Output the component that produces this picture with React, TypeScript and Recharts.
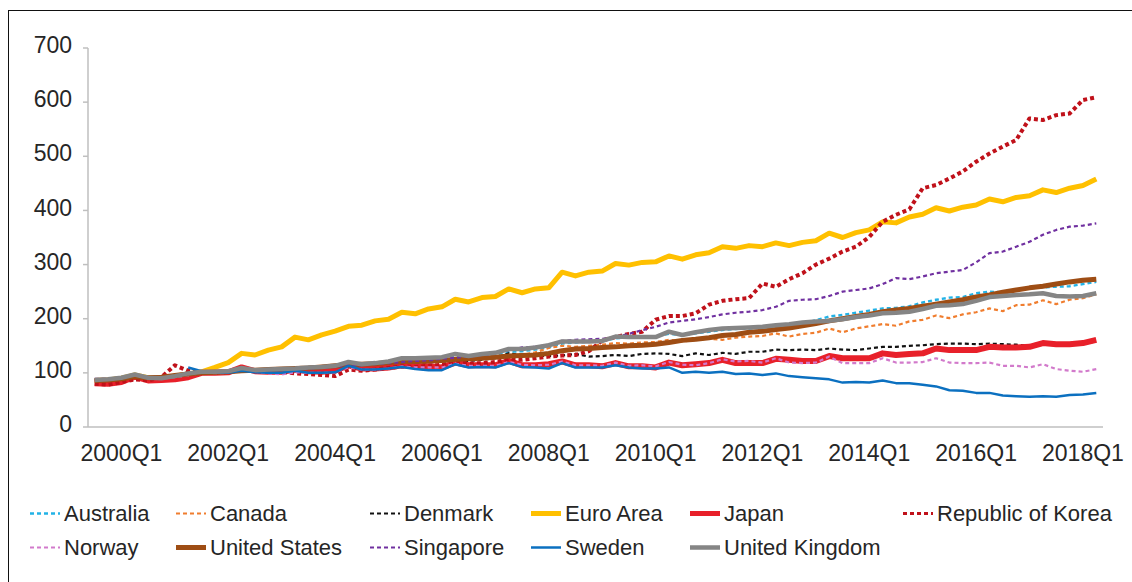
import React from 'react';
import { LineChart, Line, XAxis, YAxis } from 'recharts';

const FONT = '"Liberation Sans", Arial, sans-serif';

// quarters, 1999Q3 .. 2018Q2
const quarters = [
  '1999Q3', '1999Q4',
  '2000Q1', '2000Q2', '2000Q3', '2000Q4',
  '2001Q1', '2001Q2', '2001Q3', '2001Q4',
  '2002Q1', '2002Q2', '2002Q3', '2002Q4',
  '2003Q1', '2003Q2', '2003Q3', '2003Q4',
  '2004Q1', '2004Q2', '2004Q3', '2004Q4',
  '2005Q1', '2005Q2', '2005Q3', '2005Q4',
  '2006Q1', '2006Q2', '2006Q3', '2006Q4',
  '2007Q1', '2007Q2', '2007Q3', '2007Q4',
  '2008Q1', '2008Q2', '2008Q3', '2008Q4',
  '2009Q1', '2009Q2', '2009Q3', '2009Q4',
  '2010Q1', '2010Q2', '2010Q3', '2010Q4',
  '2011Q1', '2011Q2', '2011Q3', '2011Q4',
  '2012Q1', '2012Q2', '2012Q3', '2012Q4',
  '2013Q1', '2013Q2', '2013Q3', '2013Q4',
  '2014Q1', '2014Q2', '2014Q3', '2014Q4',
  '2015Q1', '2015Q2', '2015Q3', '2015Q4',
  '2016Q1', '2016Q2', '2016Q3', '2016Q4',
  '2017Q1', '2017Q2', '2017Q3', '2017Q4',
  '2018Q1', '2018Q2',
];

const tickLabels = ['2000Q1', '2002Q1', '2004Q1', '2006Q1', '2008Q1', '2010Q1', '2012Q1', '2014Q1', '2016Q1', '2018Q1'];
const yTicks = [0, 100, 200, 300, 400, 500, 600, 700];

const australia = [
  87, 88, 90, 95, 91, 90, 93, 97, 100, 101,
  102, 105, 104, 105, 106, 107, 109, 110, 112, 116,
  115, 117, 119, 123, 123, 124, 126, 130, 129, 131,
  134, 139, 140, 143, 147, 154, 156, 157, 158, 164,
  165, 166, 167, 172, 170, 173, 176, 179, 181, 182,
  184, 186, 189, 192, 197, 204, 207, 211, 215, 219,
  220, 223, 230, 235, 239, 240, 247, 250, 249, 253,
  256, 258, 259, 260, 264, 268,
];
const canada = [
  86, 87, 89, 94, 90, 90, 93, 97, 99, 100,
  101, 104, 103, 104, 105, 106, 108, 109, 110, 114,
  113, 115, 117, 120, 119, 121, 122, 126, 124, 126,
  128, 135, 133, 138, 146, 150, 148, 150, 152, 155,
  154, 156, 157, 161, 158, 161, 163, 161, 165, 167,
  168, 173, 167, 172, 174, 182, 175, 182, 186, 190,
  187, 195, 198, 206, 201, 208, 212, 219, 214, 225,
  226, 234, 227, 235, 238, 245,
];
const denmark = [
  86, 87, 89, 94, 90, 90, 93, 97, 100, 100,
  101, 104, 103, 104, 105, 106, 107, 108, 110, 113,
  113, 114, 116, 118, 118, 119, 121, 124, 122, 124,
  127, 136, 133, 132, 131, 132, 135, 130, 131, 133,
  131, 135, 136, 135, 131, 136, 133, 137, 135, 139,
  139, 143, 142, 143, 142, 145, 143, 142, 145, 148,
  148, 150, 151, 153, 154, 154, 153, 154, 153, 152,
  150, 153, 152, 152, 154, 158,
];
const euroArea = [
  86, 87, 90, 96, 91, 90, 94, 98, 102, 110,
  119, 136, 133, 142, 148, 166, 161, 170, 177, 186,
  188, 196, 199, 212, 209, 218, 222, 236, 231, 239,
  241, 255, 248, 255, 257, 286, 279, 286, 288, 302,
  299, 304, 305, 316, 310, 318, 322, 333, 330, 335,
  333, 340, 335, 341, 344, 358, 350, 359, 364, 379,
  377, 388, 393, 405, 399, 406, 410, 421, 416, 424,
  427, 438, 433, 441, 446, 458,
];
const japan = [
  81, 80, 83, 93, 86, 87, 88, 92, 100, 100,
  101, 110, 103, 102, 102, 106, 103, 102, 104, 114,
  108, 108, 110, 114, 112, 112, 110, 119, 114, 114,
  114, 122, 114, 114, 116, 121, 114, 114, 112, 118,
  112, 112, 110, 119, 114, 116, 118, 124, 118, 118,
  118, 126, 124, 122, 122, 131, 127, 127, 127, 136,
  133, 135, 136, 145, 142, 142, 142, 148, 147, 147,
  148, 155, 153, 153, 155, 161,
];
const korea = [
  80, 78, 83, 88, 86, 92, 114, 104, 100, 100,
  102, 108, 104, 103, 102, 99, 98, 96, 94, 106,
  104, 106, 109, 112, 111, 113, 115, 120, 117, 118,
  120, 125, 124, 127, 130, 132, 133, 140, 160, 166,
  172, 176, 198, 205, 205, 210, 226, 233, 236, 238,
  265, 259, 273, 284, 300, 311, 324, 333, 351, 379,
  392, 402, 441, 447, 459, 472, 490, 505, 518, 530,
  570, 567, 576, 579, 604, 609,
];
const norway = [
  85, 86, 88, 93, 89, 89, 92, 95, 99, 99,
  100, 106, 102, 99, 97, 101, 100, 100, 101, 110,
  106, 106, 108, 112, 110, 110, 110, 117, 113, 113,
  113, 120, 115, 114, 115, 121, 114, 114, 113, 119,
  113, 114, 112, 120, 115, 114, 118, 125, 121, 122,
  119, 127, 119, 118, 119, 130, 118, 118, 118, 127,
  119, 119, 120, 127, 119, 118, 118, 119, 113, 113,
  110, 116, 107, 104, 102, 107,
];
const unitedStates = [
  86, 87, 89, 93, 91, 92, 95, 98, 100, 101,
  102, 104, 105, 106, 107, 108, 109, 111, 113, 115,
  116, 117, 119, 121, 121, 122, 123, 125, 126, 127,
  129, 131, 132, 133, 136, 141, 144, 145, 147, 148,
  150, 151, 153, 156, 160, 162, 165, 169, 171, 175,
  177, 180, 183, 187, 191, 196, 200, 204, 208, 213,
  216, 219, 223, 227, 231, 235, 240, 244, 249, 253,
  257, 260, 264, 268, 271, 273,
];
const singapore = [
  89, 89, 91, 96, 92, 91, 94, 98, 101, 101,
  102, 106, 104, 104, 105, 106, 108, 109, 111, 114,
  114, 116, 118, 120, 122, 123, 126, 128, 130, 133,
  136, 142, 147, 148, 152, 159, 161, 162, 163, 166,
  172, 179, 185, 193, 196, 199, 203, 208, 211, 213,
  216, 222, 233, 235, 236, 242, 250, 253, 256, 264,
  275, 273, 278, 284, 287, 290, 304, 321, 324, 333,
  342, 355, 364, 370, 372, 376,
];
const sweden = [
  null, null, null, null, null, null, null, 110, 103, 100,
  100, 104, 101, 100, 100, 104, 100, 100, 101, 113,
  106, 106, 108, 111, 107, 105, 105, 116, 110, 111,
  110, 118, 111, 110, 108, 118, 110, 110, 110, 114,
  110, 108, 108, 110, 100, 102, 100, 102, 98, 99,
  96, 99, 94, 92, 90, 88, 82, 83, 82, 86,
  81, 81, 78, 75, 68, 67, 63, 63, 58, 57,
  56, 57, 56, 59, 60, 63,
];
const unitedKingdom = [
  87, 88, 91, 97, 91, 90, 94, 99, 102, 102,
  103, 109, 105, 106, 107, 108, 110, 111, 113, 120,
  116, 118, 121, 127, 127, 128, 129, 135, 131, 135,
  137, 144, 144, 147, 151, 158, 158, 158, 159, 167,
  166, 166, 166, 176, 170, 175, 179, 182, 183, 184,
  185, 188, 190, 193, 195, 196, 199, 203, 206, 210,
  211, 213, 218, 224, 225, 227, 233, 240, 242, 244,
  245, 247, 242, 241, 242, 247,
];

const data = quarters.map((q, i) => ({
  quarter: q,
  australia: australia[i],
  canada: canada[i],
  denmark: denmark[i],
  euroArea: euroArea[i],
  japan: japan[i],
  korea: korea[i],
  norway: norway[i],
  unitedStates: unitedStates[i],
  singapore: singapore[i],
  sweden: sweden[i],
  unitedKingdom: unitedKingdom[i],
}));

// drawing order = legend order (last on top)
const series = [
  { key: 'australia', name: 'Australia', color: '#22B2E6', width: 2.4, dash: '4 3' },
  { key: 'canada', name: 'Canada', color: '#F07D2E', width: 2.2, dash: '4 3' },
  { key: 'denmark', name: 'Denmark', color: '#111111', width: 2.2, dash: '4 3' },
  { key: 'euroArea', name: 'Euro Area', color: '#FFC000', width: 5 },
  { key: 'japan', name: 'Japan', color: '#E8202A', width: 6 },
  { key: 'korea', name: 'Republic of Korea', color: '#C0111A', width: 4, dash: '4 3' },
  { key: 'norway', name: 'Norway', color: '#D27ACB', width: 2.2, dash: '4 3' },
  { key: 'unitedStates', name: 'United States', color: '#9E4D14', width: 5 },
  { key: 'singapore', name: 'Singapore', color: '#7030A0', width: 2.2, dash: '4 3' },
  { key: 'sweden', name: 'Sweden', color: '#0B70C0', width: 2.5 },
  { key: 'unitedKingdom', name: 'United Kingdom', color: '#858585', width: 4.5 },
];

const legendCols = [30, 176, 370, 531, 690, 903];
const legendRows = [513.5, 547.5];

const XTick = (props: any) => {
  const { x, y, payload } = props;
  return (
    <text x={x} y={y} dy="0.71em" textAnchor="middle" fill="#262626" fontSize={23} fontFamily={FONT}>
      {payload.value}
    </text>
  );
};

const YTick = (props: any) => {
  const { x, y, payload } = props;
  return (
    <text x={x} y={y - 3} dy="0.355em" textAnchor="end" fill="#262626" fontSize={23} fontFamily={FONT}>
      {payload.value}
    </text>
  );
};

const ChartLegend = () => (
  <svg width={1132} height={582} style={{ position: 'absolute', left: 0, top: 0, pointerEvents: 'none' }}>
    {series.map((s, i) => {
      const row = i < 6 ? 0 : 1;
      const col = i < 6 ? i : i - 6;
      const x = legendCols[col];
      const y = legendRows[row];
      return (
        <g key={s.key}>
          <line
            x1={x}
            x2={x + 30}
            y1={y}
            y2={y}
            stroke={s.color}
            strokeWidth={s.dash ? Math.min(s.width, 3) : Math.min(s.width, 5)}
            strokeDasharray={s.dash}
          />
          <text x={x + 34} y={y + 7.7} fontSize={22} fill="#262626" fontFamily={FONT}>
            {s.name}
          </text>
        </g>
      );
    })}
  </svg>
);

export default function App() {
  return (
    <div style={{ position: 'absolute', left: 0, top: 0, width: 1132, height: 582, overflow: 'hidden', background: '#fff' }}>
      <div
        style={{
          position: 'absolute',
          left: 8,
          top: 10,
          width: 1300,
          height: 800,
          borderLeft: '1.5px solid #111',
          borderTop: '1.5px solid #111',
        }}
      />
      <LineChart width={1132} height={582} data={data} margin={{ top: 48, right: 29, bottom: 115, left: 0 }}>
        <XAxis
          dataKey="quarter"
          ticks={tickLabels}
          interval={0}
          tickLine={false}
          tickSize={0}
          tickMargin={18}
          height={40}
          padding={{ left: 6.7, right: 6.7 }}
          axisLine={{ stroke: '#BFBFBF', strokeWidth: 1.5 }}
          tick={<XTick />}
        />
        <YAxis
          domain={[0, 700]}
          ticks={yTicks}
          width={88}
          tickSize={5}
          tickMargin={11}
          tickLine={{ stroke: '#BFBFBF', strokeWidth: 1.5 }}
          axisLine={{ stroke: '#BFBFBF', strokeWidth: 1.5 }}
          tick={<YTick />}
        />
        {series.map((s) => (
          <Line
            key={s.key}
            type="linear"
            dataKey={s.key}
            name={s.name}
            stroke={s.color}
            strokeWidth={s.width}
            strokeDasharray={s.dash}
            strokeLinejoin="round"
            dot={false}
            activeDot={false}
            isAnimationActive={false}
          />
        ))}
      </LineChart>
      <ChartLegend />
    </div>
  );
}
